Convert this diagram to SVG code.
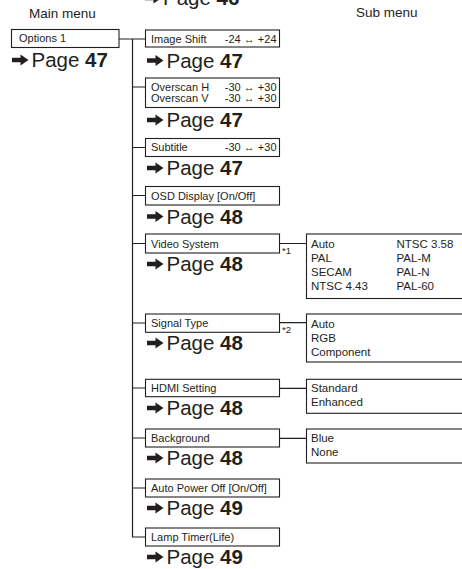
<svg xmlns="http://www.w3.org/2000/svg" width="462" height="569" viewBox="0 0 462 569">
<defs>
<style>
.box{fill:#fff;stroke:#231f20;stroke-width:1.1}
.ln{fill:none;stroke:#231f20;stroke-width:1.2}
.lbl{font-family:"Liberation Sans",Arial,sans-serif;font-size:11px;fill:#231f20}
.opt{font-family:"Liberation Sans",Arial,sans-serif;font-size:11.5px;fill:#231f20}
.hd{font-family:"Liberation Sans",Arial,sans-serif;font-size:13.5px;fill:#231f20}
.pg{font-family:"Liberation Sans",Arial,sans-serif;font-size:20.5px;fill:#231f20}
.pg tspan{font-weight:bold}
.note{font-family:"Liberation Sans",Arial,sans-serif;font-size:9.5px;fill:#231f20}
</style>
<path id="arr" d="M0,-2.3H8.5V-5.6L16.5,0L8.5,5.6V2.3H0Z" fill="#231f20"/>
</defs>
<rect width="462" height="569" fill="#fff"/>

<g id="headers">
<text class="hd" x="29" y="18.3">Main menu</text>
<text class="hd" x="356" y="17.3">Sub menu</text>
<use href="#arr" x="145" y="-2"/>
<text class="pg" x="163" y="5">Page <tspan>46</tspan></text>
</g>

<g id="connectors">
<path class="ln" d="M119,39H132.5M132.5,39V537H145.5"/>
<path class="ln" d="M132.5,39H145.5M132.5,87H145.5M132.5,147.5H145.5M132.5,195.5H145.5M132.5,243.5H145.5M132.5,323H145.5M132.5,388H145.5M132.5,438H145.5M132.5,488H145.5"/>
<path class="ln" d="M279.5,243.5H306.5M279.5,322.7H306.5M279.5,388.3H306.5M279.5,438.3H306.5"/>
<text class="note" x="282" y="254">*1</text>
<text class="note" x="282" y="333">*2</text>
</g>

<g id="options1">
<rect class="box" x="11.5" y="29.5" width="107.5" height="18"/>
<text class="lbl" x="19" y="42.3">Options 1</text>
<use href="#arr" x="12" y="60"/>
<text class="pg" x="31.5" y="67">Page <tspan>47</tspan></text>
</g>

<g id="image-shift">
<rect class="box" x="145.5" y="30" width="134" height="17"/>
<text class="lbl" x="151" y="42.5">Image Shift</text>
<text class="lbl" x="276.5" y="42.5" text-anchor="end">-24 ↔ +24</text>
<use href="#arr" x="147" y="60.5"/>
<text class="pg" x="166.5" y="67.5">Page <tspan>47</tspan></text>
</g>

<g id="overscan">
<rect class="box" x="145.5" y="78" width="134" height="29.5"/>
<text class="lbl" x="151" y="90.5">Overscan H</text>
<text class="lbl" x="276.5" y="90.5" text-anchor="end">-30 ↔ +30</text>
<text class="lbl" x="151" y="101.5">Overscan V</text>
<text class="lbl" x="276.5" y="101.5" text-anchor="end">-30 ↔ +30</text>
<use href="#arr" x="147" y="120"/>
<text class="pg" x="166.5" y="127">Page <tspan>47</tspan></text>
</g>

<g id="subtitle">
<rect class="box" x="145.5" y="138.5" width="134" height="18"/>
<text class="lbl" x="151" y="151">Subtitle</text>
<text class="lbl" x="276.5" y="151" text-anchor="end">-30 ↔ +30</text>
<use href="#arr" x="147" y="168"/>
<text class="pg" x="166.5" y="175">Page <tspan>47</tspan></text>
</g>

<g id="osd-display">
<rect class="box" x="145.5" y="186.5" width="134" height="18.5"/>
<text class="lbl" x="151" y="199.5">OSD Display [On/Off]</text>
<use href="#arr" x="147" y="216.5"/>
<text class="pg" x="166.5" y="223.5">Page <tspan>48</tspan></text>
</g>

<g id="video-system">
<rect class="box" x="145.5" y="234" width="134" height="19"/>
<text class="lbl" x="151" y="247.5">Video System</text>
<use href="#arr" x="147" y="264"/>
<text class="pg" x="166.5" y="271">Page <tspan>48</tspan></text>
</g>

<g id="video-options">
<rect class="box" x="306.5" y="234" width="170" height="64.5"/>
<text class="opt" x="311" y="247.5">Auto</text>
<text class="opt" x="311" y="261.7">PAL</text>
<text class="opt" x="311" y="275.9">SECAM</text>
<text class="opt" x="311" y="290.1">NTSC 4.43</text>
<text class="opt" x="396.5" y="247.5">NTSC 3.58</text>
<text class="opt" x="396.5" y="261.7">PAL-M</text>
<text class="opt" x="396.5" y="275.9">PAL-N</text>
<text class="opt" x="396.5" y="290.1">PAL-60</text>
</g>

<g id="signal-type">
<rect class="box" x="145.5" y="314" width="134" height="18.3"/>
<text class="lbl" x="151" y="327">Signal Type</text>
<use href="#arr" x="147" y="343"/>
<text class="pg" x="166.5" y="350">Page <tspan>48</tspan></text>
</g>

<g id="signal-options">
<rect class="box" x="306.5" y="314" width="170" height="48"/>
<text class="opt" x="311" y="327.5">Auto</text>
<text class="opt" x="311" y="341.7">RGB</text>
<text class="opt" x="311" y="355.9">Component</text>
</g>

<g id="hdmi-setting">
<rect class="box" x="145.5" y="379.3" width="134" height="17.4"/>
<text class="lbl" x="151" y="392">HDMI Setting</text>
<use href="#arr" x="147" y="408"/>
<text class="pg" x="166.5" y="415">Page <tspan>48</tspan></text>
</g>

<g id="hdmi-options">
<rect class="box" x="306.5" y="379.3" width="170" height="34"/>
<text class="opt" x="311" y="391.7">Standard</text>
<text class="opt" x="311" y="406">Enhanced</text>
</g>

<g id="background">
<rect class="box" x="145.5" y="429" width="134" height="18"/>
<text class="lbl" x="151" y="441.7">Background</text>
<use href="#arr" x="147" y="458"/>
<text class="pg" x="166.5" y="465">Page <tspan>48</tspan></text>
</g>

<g id="background-options">
<rect class="box" x="306.5" y="429" width="170" height="34"/>
<text class="opt" x="311" y="441.7">Blue</text>
<text class="opt" x="311" y="456">None</text>
</g>

<g id="auto-power-off">
<rect class="box" x="145.5" y="479" width="134" height="18"/>
<text class="lbl" x="151" y="492">Auto Power Off [On/Off]</text>
<use href="#arr" x="147" y="508"/>
<text class="pg" x="166.5" y="515">Page <tspan>49</tspan></text>
</g>

<g id="lamp-timer">
<rect class="box" x="145.5" y="528" width="134" height="18"/>
<text class="lbl" x="151" y="541">Lamp Timer(Life)</text>
<use href="#arr" x="147" y="557"/>
<text class="pg" x="166.5" y="564">Page <tspan>49</tspan></text>
</g>
</svg>
